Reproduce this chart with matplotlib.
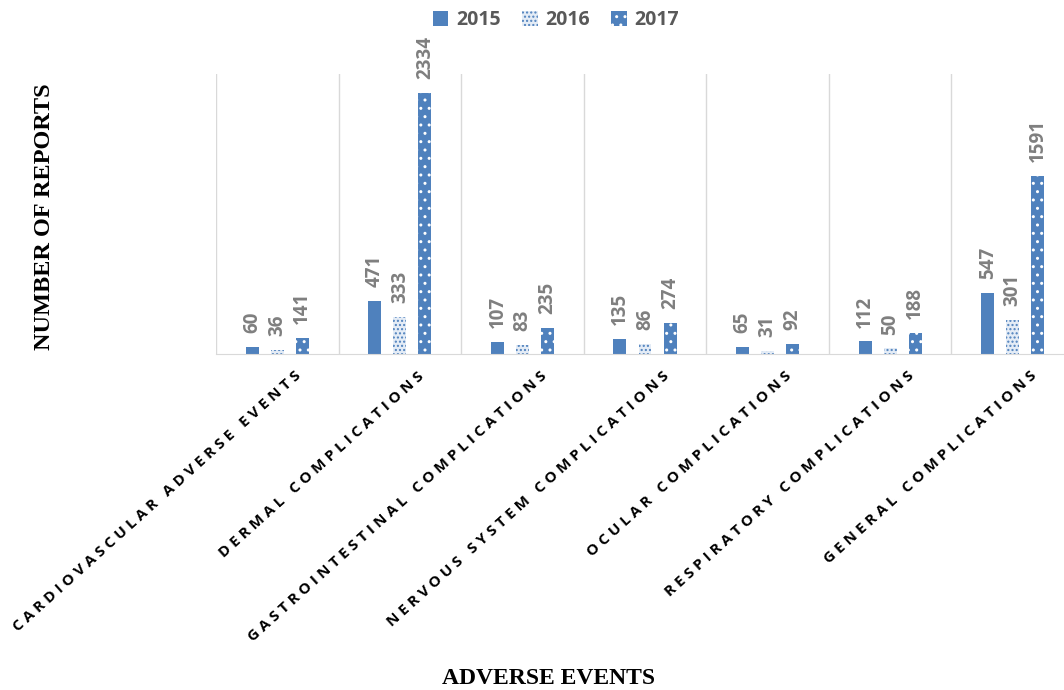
import matplotlib
matplotlib.use("Agg")
import matplotlib.pyplot as plt
import matplotlib.transforms as mtransforms
from matplotlib.patches import Patch
import numpy as np

BLUE = "#4f81bd"
GRAY_TEXT = "#7f7f7f"
GRID = "#d9d9d9"

categories = [
    "CARDIOVASCULAR ADVERSE EVENTS",
    "DERMAL COMPLICATIONS",
    "GASTROINTESTINAL COMPLICATIONS",
    "NERVOUS SYSTEM COMPLICATIONS",
    "OCULAR COMPLICATIONS",
    "RESPIRATORY COMPLICATIONS",
    "GENERAL COMPLICATIONS",
]
years = ["2015", "2016", "2017"]
vals_2015 = [60, 471, 107, 135, 65, 112, 547]
vals_2016 = [36, 333, 83, 86, 31, 50, 301]
vals_2017 = [141, 2334, 235, 274, 92, 188, 1591]

W, H = 1064, 690
fig = plt.figure(figsize=(W / 100, H / 100), dpi=100)
# plot area runs slightly past the right edge of the image, as in the original
ax = fig.add_axes([216 / W, 1 - 354 / H, 858 / W, 280 / H])

x = np.arange(len(categories))
bw = 0.106
off = 0.204
styles = [
    dict(facecolor=BLUE, edgecolor=BLUE, hatch=None),
    dict(facecolor="#e4ecf6", edgecolor=BLUE, hatch="...."),
    dict(facecolor=BLUE, edgecolor="white", hatch=".."),
]
series = [vals_2015, vals_2016, vals_2017]

for k, (vals, st, yr) in enumerate(zip(series, styles, years)):
    bars = ax.bar(x + (k - 1) * off, vals, width=bw, linewidth=0,
                  label=yr, zorder=3, **st)
    for b, v in zip(bars, vals):
        ax.annotate(f"{v}", (b.get_x() + b.get_width() / 2, v),
                    xytext=(0, 10), textcoords="offset points",
                    rotation=90, ha="center", va="bottom",
                    fontsize=13.5, fontweight="bold", color=GRAY_TEXT,
                    family="Open Sans")

ax.set_xlim(-0.5, len(categories) - 0.5)
ax.set_ylim(0, 2500)
ax.set_yticks([])
ax.set_xticks(x)
ax.set_xticklabels([])
ax.tick_params(axis="x", length=0)
for b in np.arange(-0.5, len(categories), 1.0):
    ax.axvline(b, color=GRID, lw=1, zorder=1)
for s in ["top", "right", "left"]:
    ax.spines[s].set_visible(False)
ax.spines["bottom"].set_color(GRID)
ax.spines["bottom"].set_zorder(4)

# letter-spaced, rotated category labels
shift = mtransforms.ScaledTranslation(22 / 100, -20 / 100, fig.dpi_scale_trans)
for xi, cat in zip(x, categories):
    spaced = "   ".join(" ".join(w) for w in cat.split(" "))
    ax.text(xi, 0, spaced, rotation=42, rotation_mode="anchor",
            ha="right", va="center", fontsize=11, fontweight="bold",
            family="Open Sans", color="black",
            transform=ax.transData + shift)

fig.text(45 / W, 1 - 217 / H, "NUMBER OF REPORTS", rotation=90,
         ha="center", va="center", fontsize=17.5, fontweight="bold",
         family="Liberation Serif")
fig.text(548 / W, 1 - 678 / H, "ADVERSE EVENTS", ha="center", va="center",
         fontsize=17, fontweight="bold", family="Liberation Serif")

handles = [Patch(label=yr, linewidth=0, **st) for st, yr in zip(styles, years)]
leg = fig.legend(handles=handles, loc="center", bbox_to_anchor=(556 / W, 1 - 20 / H),
                 ncol=3, frameon=False, handlelength=0.8, handleheight=0.8,
                 columnspacing=1.1, handletextpad=0.4,
                 prop={"family": "Open Sans", "weight": "bold", "size": 14})
for t in leg.get_texts():
    t.set_color("#595959")

fig.savefig("out.png", dpi=100, facecolor="white")
